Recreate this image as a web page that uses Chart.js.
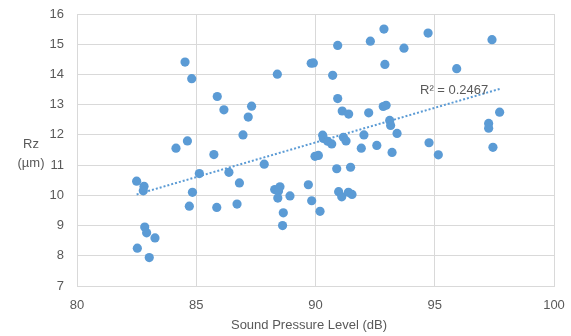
<!DOCTYPE html>
<html>
<head>
<meta charset="utf-8">
<script src="https://cdn.jsdelivr.net/npm/chart.js@4"></script>
<style>
  html, body { margin: 0; padding: 0; background: #fff; }
  #wrap { width: 571px; height: 336px; }
</style>
</head>
<body>
<div id="wrap"><canvas id="chart" width="571" height="336"></canvas></div>
<script>
// Sound pressure level (dB) vs Rz (µm)
const splValues = [
  82.50, 82.81, 82.78, 82.84, 82.92, 83.27, 82.53, 83.03, 84.15, 84.63,
  84.53, 84.81, 84.84, 84.71, 85.13, 85.74, 85.86, 85.88, 86.16, 86.37,
  86.71, 86.81, 86.96, 87.18, 87.32, 87.85, 88.29, 88.51, 88.45, 88.42,
  88.65, 88.62, 88.93, 88.40, 89.70, 89.84, 90.19, 89.82, 89.91, 89.98,
  90.12, 90.30, 90.33, 90.51, 90.68, 90.72, 90.93, 90.93, 90.89, 90.97,
  91.10, 91.38, 91.53, 91.47, 91.12, 91.39, 91.17, 91.28, 91.92, 92.03,
  92.23, 92.30, 92.57, 92.84, 92.96, 92.87, 92.91, 93.11, 93.15, 93.21,
  93.42, 93.71, 94.72, 94.76, 95.15, 95.92, 97.40, 97.26, 97.26, 97.44,
  97.72
];
const rzValues = [
  10.47, 10.30, 10.15, 8.95, 8.76, 8.59, 8.25, 7.94, 11.56, 11.80,
  14.41, 13.86, 10.10, 9.64, 10.72, 11.35, 9.60, 13.27, 12.83, 10.76,
  9.71, 10.41, 12.00, 12.59, 12.95, 11.03, 10.19, 10.28, 10.14, 9.91,
  9.42, 9.00, 9.98, 14.01, 10.35, 9.82, 9.47, 14.37, 14.38, 11.29,
  11.32, 11.99, 11.88, 11.79, 11.70, 13.97, 14.96, 13.20, 10.88, 10.12,
  9.95, 10.10, 10.03, 10.93, 12.79, 12.69, 11.92, 11.80, 11.56, 12.00,
  12.73, 15.10, 11.65, 12.94, 12.98, 15.50, 14.33, 12.48, 12.31, 11.42,
  12.05, 14.87, 15.37, 11.74, 11.34, 14.19, 15.15, 12.38, 12.22, 11.59,
  12.75
];
// linear trendline end points (as drawn in the picture)
const trendX = [82.5, 97.72];
const trendY = [10.03, 13.52];
const rSquaredLabel = "R² = 0.2467";

const textColor = "#595959";
const gridColor = "#d9d9d9";
const blue = "#5b9bd5";
const fontFamily = "'Liberation Sans', Arial, sans-serif";

const points = splValues.map((x, i) => ({ x: x, y: rzValues[i] }));
const trend = trendX.map((x, i) => ({ x: x, y: trendY[i] }));

// no extra room for label overflow, layout.padding alone places the plot
function noOverflow(axis) {
  axis.paddingTop = 0;
  axis.paddingBottom = 0;
  axis.paddingLeft = 0;
  axis.paddingRight = 0;
}

// titles drawn by hand (the y title is horizontal on two lines)
const labelsPlugin = {
  id: "labels",
  afterDraw(chart) {
    const c = chart.ctx;
    c.save();
    c.fillStyle = textColor;
    c.font = "13px " + fontFamily;
    c.textAlign = "center";
    c.textBaseline = "middle";
    c.fillText("Rz", 31, 144);
    c.fillText("(µm)", 31, 163);
    c.fillText("Sound Pressure Level (dB)", 309, 325);
    c.textAlign = "left";
    c.fillText(rSquaredLabel, 420, 90);
    c.restore();
  },
};

new Chart(document.getElementById("chart"), {
  type: "scatter",
  data: {
    datasets: [
      {
        label: "Rz",
        data: points,
        backgroundColor: blue,
        borderWidth: 0,
        pointRadius: 4.6,
        pointHoverRadius: 4.6,
        order: 2,
      },
      {
        label: "Linear trend",
        type: "line",
        data: trend,
        borderColor: blue,
        borderWidth: 2,
        borderDash: [2, 2],
        pointRadius: 0,
        fill: false,
        order: 1,
      },
    ],
  },
  options: {
    responsive: false,
    animation: false,
    layout: { padding: { top: 14, right: 17, left: 0, bottom: 0 } },
    plugins: {
      legend: { display: false },
      tooltip: { enabled: false },
    },
    scales: {
      x: {
        type: "linear",
        min: 80,
        max: 100,
        ticks: { stepSize: 5, color: textColor, padding: 12, font: { size: 13, family: fontFamily } },
        grid: { color: gridColor, drawTicks: false },
        border: { color: gridColor },
        afterFit(axis) { axis.height = 50; noOverflow(axis); },
      },
      y: {
        min: 7,
        max: 16,
        ticks: { stepSize: 1, color: textColor, padding: 13, font: { size: 13, family: fontFamily } },
        grid: { color: gridColor, drawTicks: false },
        border: { color: gridColor },
        afterFit(axis) { axis.width = 77; noOverflow(axis); },
      },
    },
  },
  plugins: [labelsPlugin],
});
</script>
</body>
</html>
